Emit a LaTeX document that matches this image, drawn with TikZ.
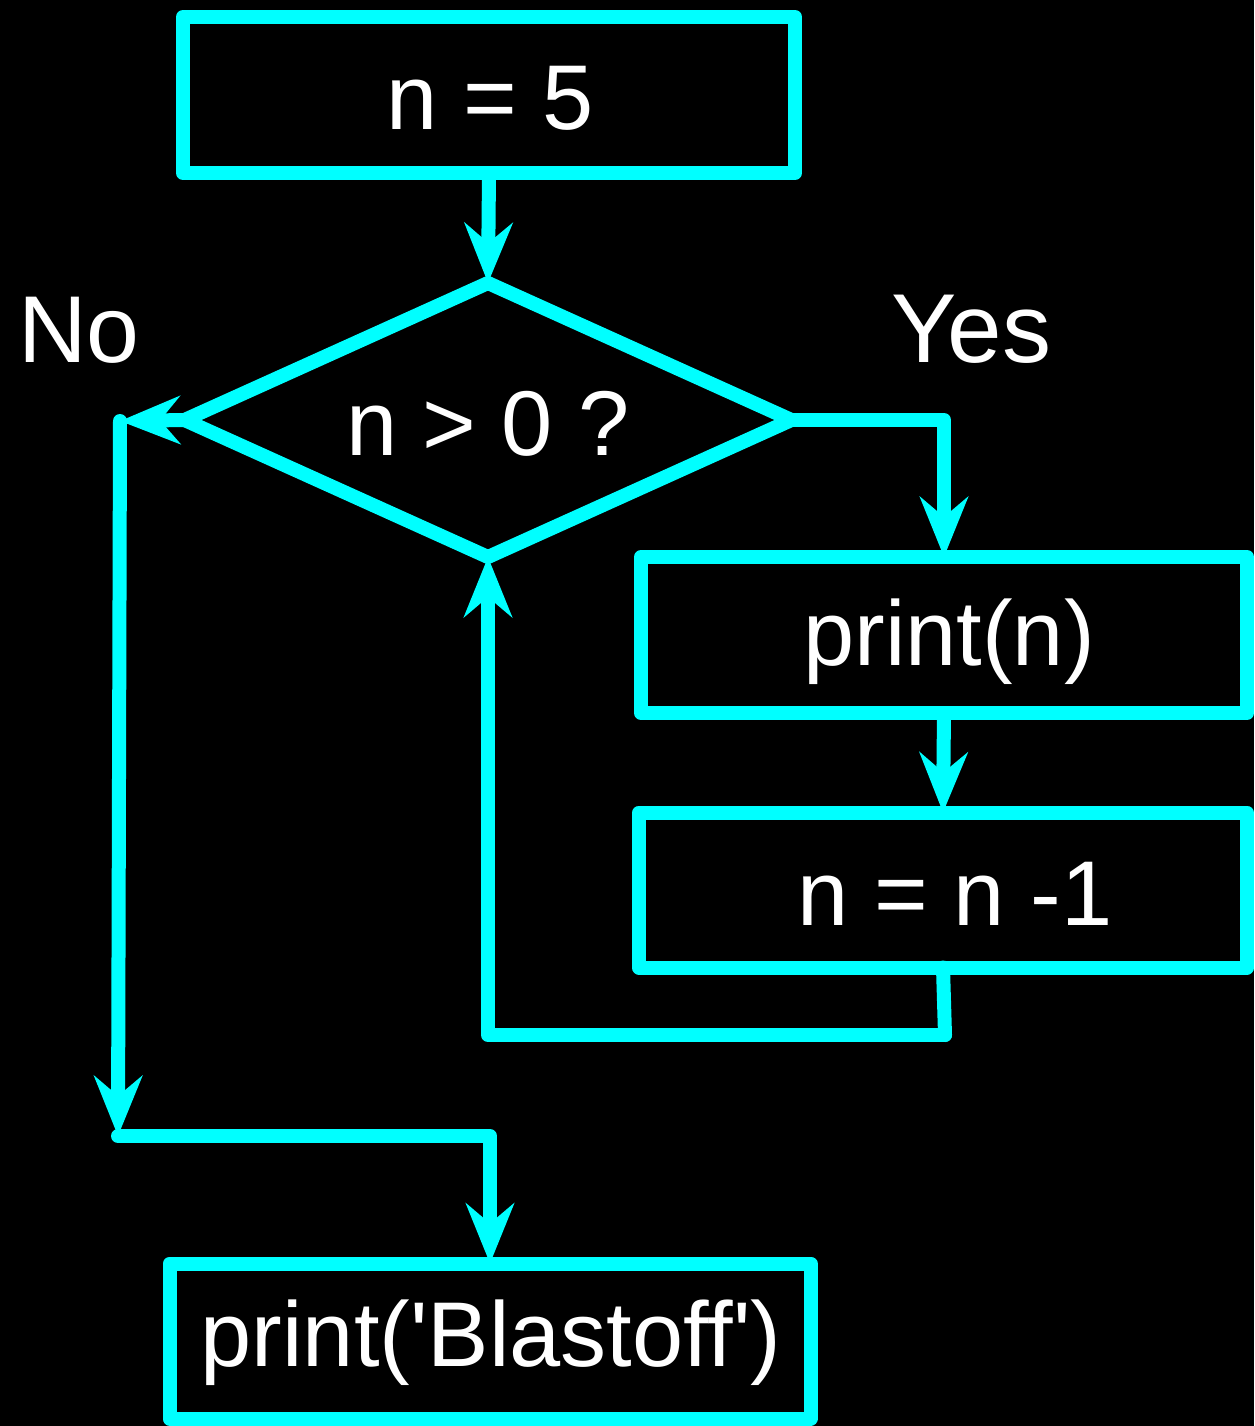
\documentclass[tikz,border=0pt]{standalone}
\usepackage{fontspec}
\setmainfont{Liberation Sans}
\usetikzlibrary{shapes.geometric,arrows.meta}
\definecolor{cy}{HTML}{00FFFF}
\begin{document}
\begin{tikzpicture}[x=1pt,y=-1pt,
  box/.style={draw=cy,line width=14pt,line join=round,fill=black,inner sep=0pt,outer sep=0pt},
  txt/.style={text=white,font=\fontsize{92}{110}\selectfont,inner sep=0pt,anchor=base},
  conn/.style={draw=cy,line width=14pt,line cap=round,line join=round,-{Stealth[length=60pt,width=48pt,inset=20pt]}},
  plain/.style={draw=cy,line width=14pt,line cap=round,line join=round}]
\fill[black] (0,0) rectangle (1254,1426);
\useasboundingbox (0,0) rectangle (1254,1426);
% boxes
\node[box,minimum width=612pt,minimum height=156pt] (start) at (489,95) {};
\node[box,shape=diamond,aspect=2.215,minimum width=607pt,minimum height=274pt] (dia) at (488,420) {};
\node[box,minimum width=606pt,minimum height=156pt] (printn) at (944,635) {};
\node[box,minimum width=608pt,minimum height=155pt] (dec) at (943,890) {};
\node[box,minimum width=641pt,minimum height=155pt] (blast) at (490,1341) {};
% texts
\node[txt] (t1) at (490,130) {n = 5};
\node[txt] (t2) at (488,455) {n > 0 ?};
\node[txt] (t3) at (949,665) {print(n)};
\node[txt] (t4) at (955,925) {n = n -1};
\node[txt] (t5) at (491,1366) {print(\textquotesingle Blastoff\textquotesingle)};
\node[txt,font=\fontsize{95}{110}\selectfont] (no) at (79,362) {No};
\node[txt,font=\fontsize{98}{110}\selectfont] (yes) at (971,362) {Yes};
% coordinates
\coordinate (noL) at (120,421);
\coordinate (noB) at (118,1136);
\coordinate (loopR) at (945,1035);
% connectors
\draw[conn] (start.south) -- (dia.north);
\draw[conn] (dia.west) -- (noL);
\draw[conn] (noL) -- (noB);
\draw[conn] (noB) -| (blast.north);
\draw[conn] (dia.east) -| (printn.north);
\draw[conn] (printn.south) -- (dec.north);
\draw[plain] (dec.south) -- (loopR);
\draw[conn] (loopR) -| (dia.south);
\end{tikzpicture}
\end{document}
